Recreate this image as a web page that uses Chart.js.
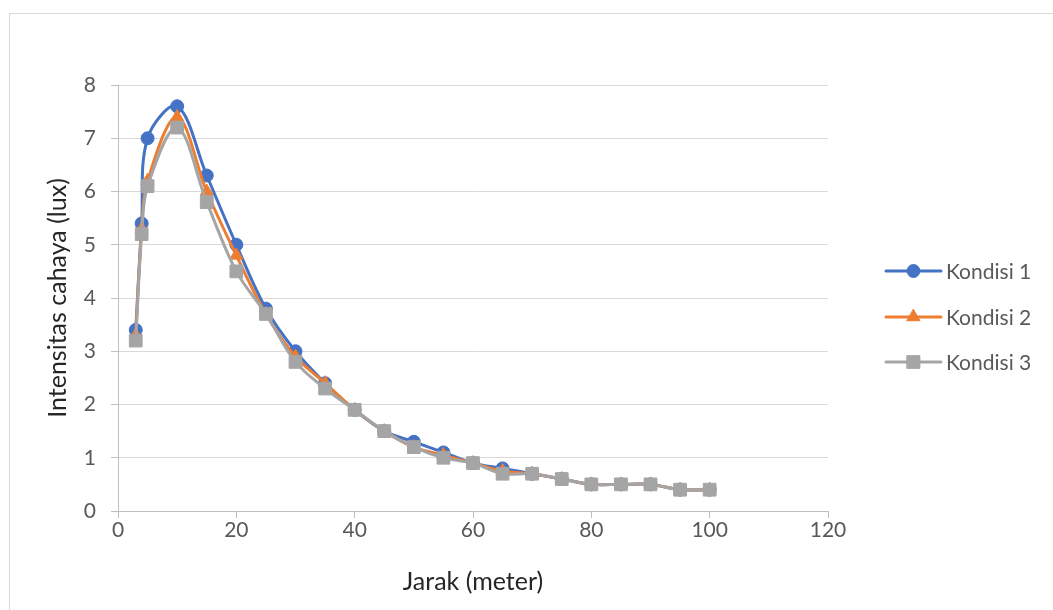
<!DOCTYPE html>
<html><head><meta charset="utf-8">
<script src="https://cdn.jsdelivr.net/npm/chart.js@4.4.0/dist/chart.umd.min.js"></script>
<style>
html,body{margin:0;padding:0;background:#fff;overflow:hidden}
#wrap{position:relative;width:1053px;height:610px;overflow:hidden}
#frame{position:absolute;left:9px;top:13px;width:1100px;height:700px;border-left:1px solid #d9d9d9;border-top:1px solid #d9d9d9;box-sizing:border-box}
canvas{position:absolute;left:0;top:0}
</style></head><body>
<div id="wrap"><div id="frame"></div><canvas id="c" width="1053" height="610"></canvas></div>
<script>
const jarak    = [3, 4, 5, 10, 15, 20, 25, 30, 35, 40, 45, 50, 55, 60, 65, 70, 75, 80, 85, 90, 95, 100];
const kondisi1 = [3.4, 5.4, 7.0, 7.6, 6.3, 5.0, 3.8, 3.0, 2.4, 1.9, 1.5, 1.3, 1.1, 0.9, 0.8, 0.7, 0.6, 0.5, 0.5, 0.5, 0.4, 0.4];
const kondisi2 = [3.3, 5.3, 6.2, 7.4, 6.0, 4.8, 3.7, 2.9, 2.4, 1.9, 1.5, 1.2, 1.05, 0.9, 0.75, 0.7, 0.6, 0.5, 0.5, 0.5, 0.4, 0.4];
const kondisi3 = [3.2, 5.2, 6.1, 7.2, 5.8, 4.5, 3.7, 2.8, 2.3, 1.9, 1.5, 1.2, 1.0, 0.9, 0.7, 0.7, 0.6, 0.5, 0.5, 0.5, 0.4, 0.4];
const seriesLabels = ['Kondisi 1', 'Kondisi 2', 'Kondisi 3'];
const xTitle = 'Jarak (meter)';
const yTitle = 'Intensitas cahaya (lux)';

const FONT = 'Lato, "Open Sans", "Noto Sans", sans-serif';
const colors = ['#4472C4', '#ED7D31', '#A5A5A5'];
const styles = ['circle', 'triangle', 'rect'];
const radii = [6.5, 7.5, 9];
const allY = [kondisi1, kondisi2, kondisi3];

const datasets = allY.map((ys, i) => ({
  label: seriesLabels[i],
  data: jarak.map((x, j) => ({x: x, y: ys[j]})),
  borderColor: colors[i],
  backgroundColor: colors[i],
  pointBackgroundColor: colors[i],
  pointBorderColor: colors[i],
  pointBorderWidth: 1,
  pointStyle: styles[i],
  pointRadius: radii[i],
  borderWidth: 3,
  tension: 0.35,
  showLine: true,
  order: 3 - i,
  clip: 12
}));

const legendPlugin = {
  id: 'sideLegend',
  afterDraw(chart) {
    const ctx = chart.ctx;
    const x0 = 886, x1 = 941, tx = 946;
    const ys = [271, 317, 362];
    ctx.save();
    chart.data.datasets.forEach((ds, i) => {
      const y = ys[i];
      ctx.strokeStyle = ds.borderColor;
      ctx.lineWidth = 3;
      ctx.lineCap = 'round';
      ctx.beginPath(); ctx.moveTo(x0, y); ctx.lineTo(x1, y); ctx.stroke();
      const cx = (x0 + x1) / 2;
      ctx.fillStyle = ds.pointBackgroundColor;
      ctx.strokeStyle = ds.pointBorderColor;
      ctx.lineWidth = 1;
      if (Chart.helpers && Chart.helpers.drawPoint) {
        Chart.helpers.drawPoint(ctx, {pointStyle: ds.pointStyle, radius: ds.pointRadius, rotation: 0, borderWidth: 1}, cx, y);
      }
      ctx.fillStyle = '#595959';
      ctx.font = '21px ' + FONT;
      ctx.textBaseline = 'middle';
      ctx.textAlign = 'left';
      ctx.fillText(ds.label, tx, y + 1);
    });
    ctx.restore();
  }
};

new Chart(document.getElementById('c'), {
  type: 'scatter',
  data: {datasets},
  plugins: [legendPlugin],
  options: {
    responsive: false,
    animation: false,
    devicePixelRatio: 1,
    layout: {padding: {left: 0, right: 225, top: 85, bottom: 0}},
    plugins: {legend: {display: false}, tooltip: {enabled: false}},
    scales: {
      x: {
        type: 'linear', min: 0, max: 120,
        ticks: {stepSize: 20, color: '#595959', font: {family: FONT, size: 21}, padding: 0, maxRotation: 0},
        grid: {drawOnChartArea: false, drawTicks: true, tickLength: 7, tickColor: '#bfbfbf', color: '#bfbfbf'},
        border: {color: '#bfbfbf', width: 1},
        title: {display: true, text: xTitle, color: '#262626', font: {family: FONT, size: 25}, padding: {top: 0, bottom: 13}},
        afterFit(s) { s.height = 99; }
      },
      y: {
        type: 'linear', min: 0, max: 8,
        ticks: {stepSize: 1, color: '#595959', font: {family: FONT, size: 21}, padding: 15},
        grid: {color: '#d9d9d9', drawTicks: true, tickLength: 7, tickColor: '#bfbfbf'},
        border: {color: '#bfbfbf', width: 1},
        title: {display: true, text: yTitle, color: '#262626', font: {family: FONT, size: 25}, padding: {top: 43, bottom: 0}},
        afterFit(s) { s.width = 118; }
      }
    }
  }
});
</script>
</body></html>
